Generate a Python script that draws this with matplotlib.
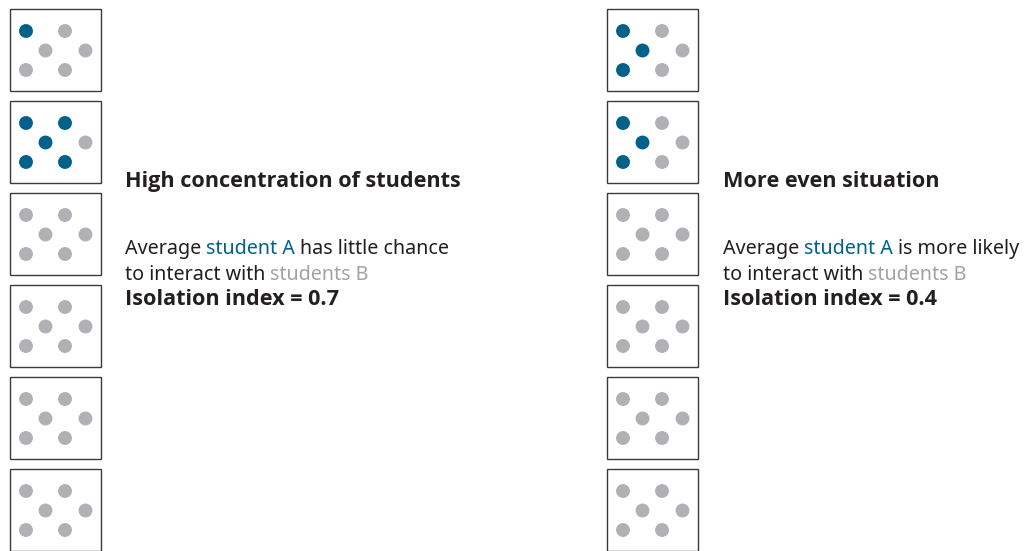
import matplotlib
matplotlib.use("Agg")
import matplotlib.pyplot as plt
from matplotlib.patches import Rectangle

plt.rcParams['font.family'] = ['Noto Sans', 'DejaVu Sans']

# 每个方框里 6 个点：哪些是 A 类学生（1）
left_blue = [
    [1, 0, 0, 0, 0, 0],
    [1, 1, 1, 0, 1, 1],
    [0, 0, 0, 0, 0, 0],
    [0, 0, 0, 0, 0, 0],
    [0, 0, 0, 0, 0, 0],
    [0, 0, 0, 0, 0, 0],
]
right_blue = [
    [1, 0, 1, 0, 1, 0],
    [1, 0, 1, 0, 1, 0],
    [0, 0, 0, 0, 0, 0],
    [0, 0, 0, 0, 0, 0],
    [0, 0, 0, 0, 0, 0],
    [0, 0, 0, 0, 0, 0],
]
titles = ['High concentration of students', 'More even situation']
phrases = ['has little chance', 'is more likely']
isolation = [0.7, 0.4]

BLUE = '#00628a'
GREY = '#b1b1b5'
TXT = '#231f20'
BOLD = ['Open Sans', 'Noto Sans', 'DejaVu Sans']

# 点在方框内的位置（列, 行）
dot_col = [0, 2, 1, 3, 0, 2]
dot_row = [0, 0, 1, 1, 2, 2]
col_x = [16, 35.5, 55, 75.5]
row_y = [22.5, 42, 61.5]

fig = plt.figure(figsize=(10.27, 5.51), dpi=100)
ax = fig.add_axes([0, 0, 1, 1])
ax.set_xlim(0, 1027)
ax.set_ylim(551, 0)
ax.axis('off')

FS = 14.2
FSB = 15.6


def panel(x0, blues, title, phrase, idx, tx):
    for i, flags in enumerate(blues):
        y0 = 8.5 + 92 * i
        ax.add_patch(Rectangle((x0, y0), 90.5, 82.5, fill=False,
                               edgecolor='#3a3a3a', linewidth=1.0))
        xs = [x0 + col_x[c] for c in dot_col]
        ys = [y0 + row_y[r] for r in dot_row]
        cs = [BLUE if f else GREY for f in flags]
        ax.scatter(xs, ys, s=100, c=cs, linewidths=0)

    ax.text(tx, 187, title, fontsize=FSB, fontweight='bold', family=BOLD,
            color=TXT, va='baseline', ha='left')

    # 多色文字
    pieces = [('Average ', TXT), ('student A ', BLUE), (phrase, TXT)]
    t = ax.text(tx, 254, pieces[0][0], fontsize=FS, color=pieces[0][1],
                va='baseline', ha='left')
    for s, c in pieces[1:]:
        t = ax.annotate(s, xy=(1, 0), xycoords=t, va='bottom', ha='left',
                        fontsize=FS, color=c)
    t = ax.text(tx, 279.5, 'to interact with ', fontsize=FS, color=TXT,
                va='baseline', ha='left')
    ax.annotate('students B', xy=(1, 0), xycoords=t, va='bottom', ha='left',
                fontsize=FS, color='#a3a3a6')
    ax.text(tx, 305, 'Isolation index = %.1f' % idx, fontsize=FSB,
            fontweight='bold', family=BOLD, color=TXT, va='baseline',
            ha='left')


panel(10, left_blue, titles[0], phrases[0], isolation[0], 125)
panel(607, right_blue, titles[1], phrases[1], isolation[1], 723)

fig.savefig('out.png', dpi=100)
